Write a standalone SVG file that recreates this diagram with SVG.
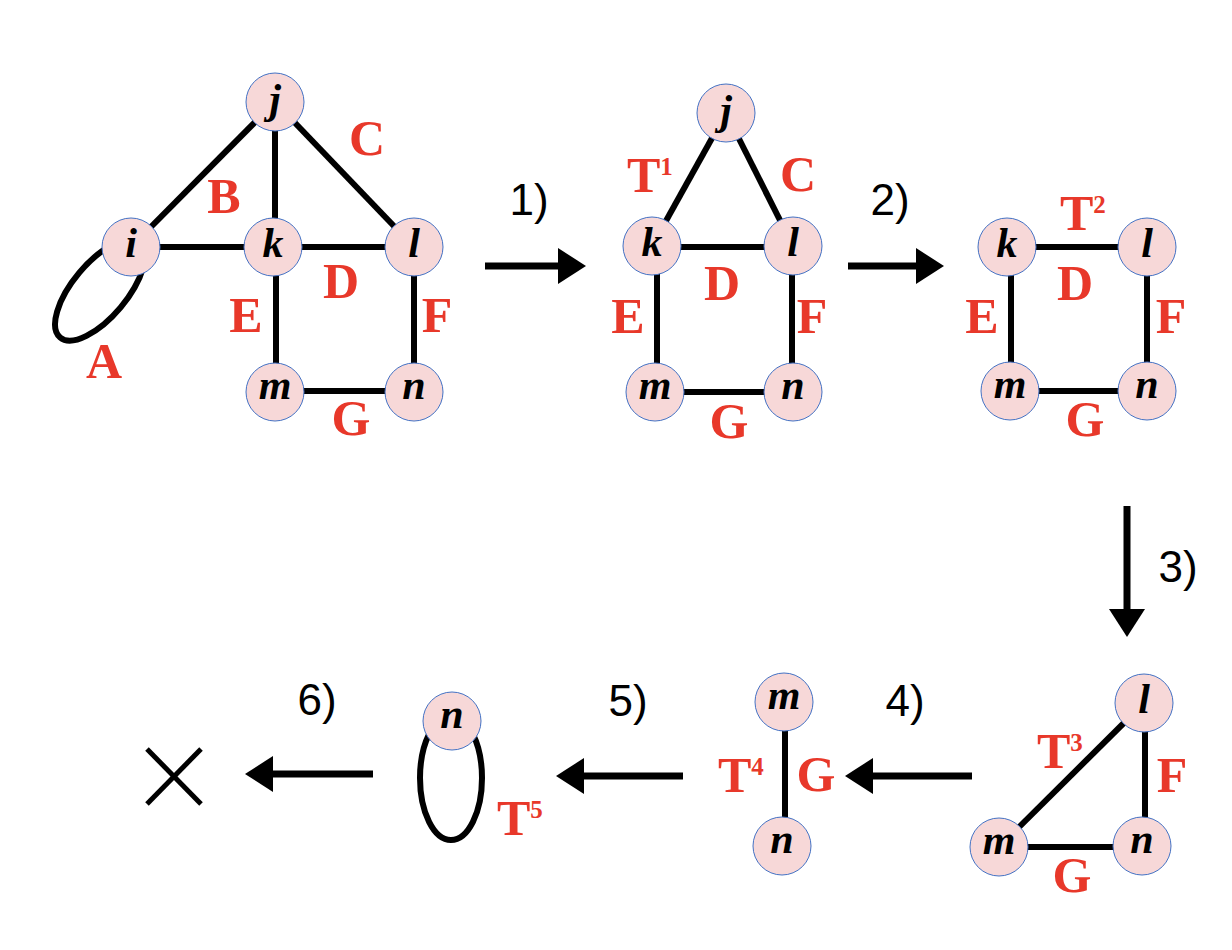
<svg xmlns="http://www.w3.org/2000/svg" width="1232" height="950" viewBox="0 0 1232 950">
<style>
.edge{stroke:#000;stroke-width:6;fill:none;stroke-linecap:butt}
.node circle{fill:#F7D8D8;stroke:#4472C4;stroke-width:1}
.node text{font-family:"Liberation Serif","Times New Roman",serif;font-style:italic;font-weight:bold;font-size:42px;fill:#000;text-anchor:middle}
.lbl{font-family:"Liberation Serif","Times New Roman",serif;font-weight:bold;font-size:50px;fill:#E8382A;text-anchor:middle}
.sup{font-size:25px}
.step{font-family:"Liberation Sans",Arial,sans-serif;font-size:44px;fill:#000;text-anchor:middle}
.arrow{stroke:#000;stroke-width:7;fill:none}
</style>
<defs>
<marker id="ah" markerUnits="userSpaceOnUse" markerWidth="28" markerHeight="36" refX="0" refY="18" orient="auto" overflow="visible">
<path d="M0,0 L28,18 L0,36 Z" fill="#000"/>
</marker>
</defs>

<g id="connectors">
<!-- graph 1 -->
<ellipse class="edge" cx="100" cy="290" rx="62" ry="27" transform="rotate(-50 100 290)"/>
<line class="edge" x1="275" y1="102" x2="131" y2="247"/>
<line class="edge" x1="275" y1="102" x2="275" y2="247"/>
<line class="edge" x1="275" y1="102" x2="414" y2="247"/>
<line class="edge" x1="131" y1="247" x2="414" y2="247"/>
<line class="edge" x1="276" y1="247" x2="276" y2="392"/>
<line class="edge" x1="414" y1="247" x2="414" y2="392"/>
<line class="edge" x1="275" y1="391" x2="414" y2="391"/>
<!-- graph 2 -->
<line class="edge" x1="726" y1="113" x2="652" y2="246"/>
<line class="edge" x1="726" y1="113" x2="793" y2="246"/>
<line class="edge" x1="652" y1="247" x2="793" y2="247"/>
<line class="edge" x1="657" y1="246" x2="657" y2="392"/>
<line class="edge" x1="792" y1="246" x2="792" y2="392"/>
<line class="edge" x1="655" y1="392" x2="793" y2="392"/>
<!-- graph 3 -->
<line class="edge" x1="1007" y1="247" x2="1147" y2="247"/>
<line class="edge" x1="1011" y1="247" x2="1011" y2="391"/>
<line class="edge" x1="1147" y1="247" x2="1147" y2="391"/>
<line class="edge" x1="1010" y1="391" x2="1147" y2="391"/>
<!-- graph 4 -->
<line class="edge" x1="1144" y1="703" x2="999" y2="847"/>
<line class="edge" x1="1145" y1="703" x2="1145" y2="846"/>
<line class="edge" x1="999" y1="847" x2="1142" y2="847"/>
<!-- graph 5 -->
<line class="edge" x1="785" y1="702" x2="785" y2="845"/>
<!-- graph 6 -->
<ellipse class="edge" cx="451" cy="778" rx="31" ry="62"/>
<!-- step arrows -->
<line class="arrow" x1="485" y1="266" x2="558" y2="266" marker-end="url(#ah)"/>
<line class="arrow" x1="848" y1="266" x2="916" y2="266" marker-end="url(#ah)"/>
<line class="arrow" x1="1127" y1="506" x2="1127" y2="609" marker-end="url(#ah)"/>
<line class="arrow" x1="972" y1="776" x2="873" y2="776" marker-end="url(#ah)"/>
<line class="arrow" x1="683" y1="776" x2="584" y2="776" marker-end="url(#ah)"/>
<line class="arrow" x1="373" y1="774" x2="273" y2="774" marker-end="url(#ah)"/>
<!-- end cross -->
<line class="edge" style="stroke-width:5" x1="147" y1="749" x2="201" y2="804"/>
<line class="edge" style="stroke-width:5" x1="201" y1="749" x2="147" y2="804"/>
</g>

<g id="g1-j" class="node"><circle cx="275" cy="102" r="29"/><text x="275" y="113">j</text></g>
<g id="g1-i" class="node"><circle cx="131" cy="247" r="29"/><text x="131" y="257">i</text></g>
<g id="g1-k" class="node"><circle cx="273" cy="247" r="29"/><text x="273" y="257">k</text></g>
<g id="g1-l" class="node"><circle cx="414" cy="247" r="29"/><text x="414" y="257">l</text></g>
<g id="g1-m" class="node"><circle cx="275" cy="392" r="29"/><text x="275" y="399">m</text></g>
<g id="g1-n" class="node"><circle cx="414" cy="392" r="29"/><text x="414" y="399">n</text></g>

<g id="g2-j" class="node"><circle cx="726" cy="113" r="29"/><text x="726" y="124">j</text></g>
<g id="g2-k" class="node"><circle cx="652" cy="246" r="29"/><text x="652" y="256">k</text></g>
<g id="g2-l" class="node"><circle cx="793" cy="246" r="29"/><text x="793" y="256">l</text></g>
<g id="g2-m" class="node"><circle cx="655" cy="392" r="29"/><text x="655" y="399">m</text></g>
<g id="g2-n" class="node"><circle cx="793" cy="392" r="29"/><text x="793" y="399">n</text></g>

<g id="g3-k" class="node"><circle cx="1007" cy="247" r="29"/><text x="1007" y="257">k</text></g>
<g id="g3-l" class="node"><circle cx="1147" cy="247" r="29"/><text x="1147" y="257">l</text></g>
<g id="g3-m" class="node"><circle cx="1010" cy="391" r="29"/><text x="1010" y="398">m</text></g>
<g id="g3-n" class="node"><circle cx="1147" cy="391" r="29"/><text x="1147" y="398">n</text></g>

<g id="g4-l" class="node"><circle cx="1144" cy="703" r="29"/><text x="1144" y="713">l</text></g>
<g id="g4-m" class="node"><circle cx="999" cy="847" r="29"/><text x="999" y="854">m</text></g>
<g id="g4-n" class="node"><circle cx="1142" cy="846" r="29"/><text x="1142" y="853">n</text></g>

<g id="g5-m" class="node"><circle cx="784" cy="702" r="29"/><text x="784" y="709">m</text></g>
<g id="g5-n" class="node"><circle cx="782" cy="846" r="29"/><text x="782" y="853">n</text></g>

<g id="g6-n" class="node"><circle cx="452" cy="721" r="29"/><text x="452" y="728">n</text></g>

<g id="labels">
<text class="lbl" x="104" y="378">A</text>
<text class="lbl" x="224" y="213">B</text>
<text class="lbl" x="367" y="155">C</text>
<text class="lbl" x="341" y="298">D</text>
<text class="lbl" x="246" y="332">E</text>
<text class="lbl" x="437" y="332">F</text>
<text class="lbl" x="351" y="435">G</text>

<text class="lbl" x="627" y="192" style="text-anchor:start">T<tspan class="sup" dy="-17">1</tspan></text>
<text class="lbl" x="798" y="191">C</text>
<text class="lbl" x="722" y="300">D</text>
<text class="lbl" x="628" y="333">E</text>
<text class="lbl" x="812" y="333">F</text>
<text class="lbl" x="729" y="438">G</text>

<text class="lbl" x="1060" y="230" style="text-anchor:start">T<tspan class="sup" dy="-17">2</tspan></text>
<text class="lbl" x="1075" y="300">D</text>
<text class="lbl" x="982" y="333">E</text>
<text class="lbl" x="1171" y="333">F</text>
<text class="lbl" x="1085" y="436">G</text>

<text class="lbl" x="1037" y="768" style="text-anchor:start">T<tspan class="sup" dy="-17">3</tspan></text>
<text class="lbl" x="1172" y="792">F</text>
<text class="lbl" x="1072" y="892">G</text>

<text class="lbl" x="718" y="792" style="text-anchor:start">T<tspan class="sup" dy="-17">4</tspan></text>
<text class="lbl" x="816" y="791">G</text>

<text class="lbl" x="497" y="835" style="text-anchor:start">T<tspan class="sup" dy="-17">5</tspan></text>

<text class="step" x="529" y="215">1)</text>
<text class="step" x="890" y="215">2)</text>
<text class="step" x="1178" y="582">3)</text>
<text class="step" x="905" y="716">4)</text>
<text class="step" x="628" y="716">5)</text>
<text class="step" x="317" y="715">6)</text>
</g>
</svg>
